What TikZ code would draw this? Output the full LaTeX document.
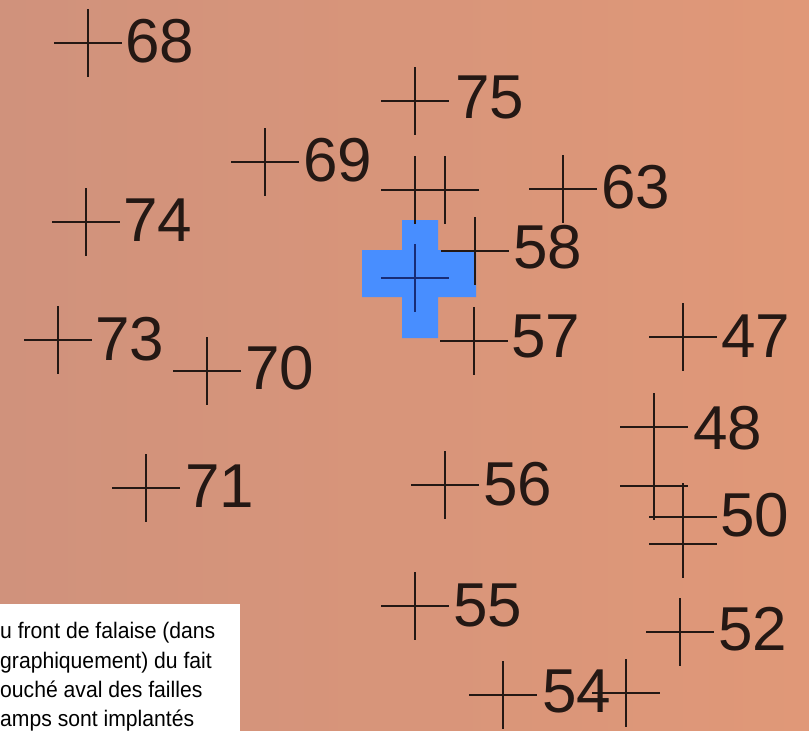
\documentclass[tikz,border=0pt]{standalone}
\usepackage{fontspec}
\setmainfont{Liberation Sans}
\usetikzlibrary{calc}
\definecolor{bgleft}{RGB}{208,146,124}
\definecolor{bgright}{RGB}{224,152,120}
\definecolor{inkc}{RGB}{36,24,20}
\definecolor{bluepatch}{RGB}{72,142,255}
\definecolor{navyc}{RGB}{24,44,118}
\tikzset{
  crossline/.style={line width=2.1pt},
  pics/stn/.style={code={\draw[crossline] (-34,0) -- (34,0) (0,-34) -- (0,34);}},
  lbl/.style={anchor=west, inner sep=0pt, text=inkc, font=\fontsize{62}{62}\selectfont},
  boxtext/.style={anchor=base west, inner sep=0pt, text=black, font=\fontsize{22.5}{27}\selectfont}
}
\newcommand{\cond}[1]{\scalebox{0.94}[1]{#1}}
\begin{document}
\begin{tikzpicture}[x=1pt,y=-1pt,color=inkc]
\useasboundingbox (0,0) rectangle (809,731);
\shade[left color=bgleft, right color=bgright] (0,0) rectangle (809,731);
% blue patch
\fill[bluepatch] (402,220) -- (438,220) -- (438,250) -- (476,250) -- (476,297) -- (438,297) -- (438,338) -- (402,338) -- (402,297) -- (362,297) -- (362,250) -- (402,250) -- cycle;
% station coordinates
\coordinate (c68) at (88,43);
\coordinate (c75) at (415,101);
\coordinate (c69) at (265,162);
\coordinate (cpa) at (415,190);
\coordinate (cpb) at (445,190);
\coordinate (c63) at (563,189);
\coordinate (c74) at (86,222);
\coordinate (c58) at (475,251);
\coordinate (cbl) at (415,278);
\coordinate (c57) at (474,341);
\coordinate (c47) at (683,337);
\coordinate (c73) at (58,340);
\coordinate (c70) at (207,371);
\coordinate (c48) at (654,427);
\coordinate (cu1) at (654,486);
\coordinate (c71) at (146,488);
\coordinate (c56) at (445,485);
\coordinate (c50) at (683,517);
\coordinate (cu2) at (683,544);
\coordinate (c55) at (415,606);
\coordinate (c52) at (680,632);
\coordinate (c54) at (503,695);
\coordinate (cu3) at (626,693);
% crosses
\foreach \c in {c68,c75,c69,cpa,cpb,c63,c74,c58,c57,c47,c73,c70,c48,cu1,c71,c56,c50,cu2,c55,c52,c54,cu3}
  \pic at (\c) {stn};
\pic[color=navyc] at (cbl) {stn};
% labels
\node[lbl] (n68) at (125,41) {68};
\node[lbl] (n75) at (455,97) {75};
\node[lbl] (n69) at (303,160) {69};
\node[lbl] (n63) at (601,187) {63};
\node[lbl] (n74) at (123,220) {74};
\node[lbl] (n58) at (513,247) {58};
\node[lbl] (n57) at (511,336) {57};
\node[lbl] (n47) at (721,336) {47};
\node[lbl] (n73) at (95,339) {73};
\node[lbl] (n70) at (245,368) {70};
\node[lbl] (n48) at (693,428) {48};
\node[lbl] (n71) at (185,486) {71};
\node[lbl] (n56) at (483,484) {56};
\node[lbl] (n50) at (720,515) {50};
\node[lbl] (n55) at (453,605) {55};
\node[lbl] (n52) at (718,629) {52};
\node[lbl] (n54) at (542,691) {54};
% text box
\node[fill=white, anchor=north west, minimum width=240pt, minimum height=127pt, inner sep=0pt] (box) at (0,604) {};
\node[boxtext] (t1) at (0,638) {\cond{u front de falaise (dans}};
\node[boxtext] (t2) at (0,668) {\cond{graphiquement) du fait}};
\node[boxtext] (t3) at (0,697) {\cond{ouché aval des failles}};
\node[boxtext] (t4) at (0,726) {\cond{amps sont implantés}};
\end{tikzpicture}
\end{document}
